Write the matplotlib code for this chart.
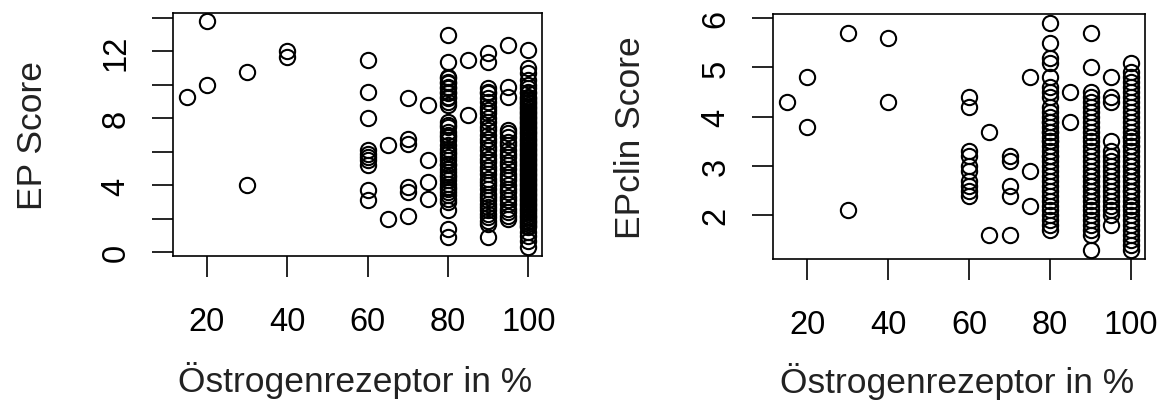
import matplotlib
matplotlib.use("Agg")
from matplotlib import pyplot as plt

plt.rcParams['font.family'] = ['Liberation Sans', 'DejaVu Sans']

# oestrogen receptor levels (%) that occur in the data
er_levels = [15, 20, 30, 40, 60, 65, 70, 75, 80, 85, 90, 95, 100]

# EP score per receptor level
ep_score = [
    [9.3],
    [13.8, 10.0],
    [10.8, 4.0],
    [12.0, 11.7],
    [11.5, 9.6, 8.0, 6.1, 5.9, 5.7, 5.5, 5.2, 3.7, 3.1],
    [6.4, 2.0],
    [9.2, 6.8, 6.5, 3.9, 3.6, 2.2],
    [8.8, 5.5, 4.2, 3.2],
    [13.0, 11.4, 10.5, 10.4, 10.2, 10.1, 9.9, 9.8, 9.6, 9.5, 9.3, 9.2, 9.0, 8.8,
     7.8, 7.6, 7.5, 7.2, 7.0, 6.9, 6.7, 6.4, 6.2, 6.0, 5.9, 5.7, 5.5, 5.3, 5.2,
     5.0, 4.8, 4.6, 4.5, 4.3, 4.1, 3.9, 3.8, 3.6, 3.4, 3.2, 3.0, 2.5, 1.4, 0.9],
    [11.5, 8.2],
    [11.9, 11.4, 9.8, 9.6, 9.5, 9.2, 9.0, 8.7, 8.5, 8.3, 8.0, 7.8, 7.5, 7.3, 7.0,
     6.8, 6.6, 6.3, 6.1, 5.8, 5.6, 5.4, 5.1, 4.9, 4.7, 4.4, 4.2, 4.0, 3.8, 3.5,
     3.3, 3.1, 2.9, 2.7, 2.5, 2.3, 2.1, 1.9, 1.7, 0.9],
    [12.4, 9.9, 9.3, 7.3, 7.1, 6.9, 6.6, 6.4, 6.1, 5.9, 5.7, 5.4, 5.2, 5.0, 4.7,
     4.5, 4.3, 4.0, 3.8, 3.6, 3.3, 3.1, 2.9, 2.6, 2.4, 2.2, 2.0],
    [12.1, 11.0, 10.7, 10.3, 10.0, 9.8, 9.6, 9.5, 9.3, 9.2, 9.1, 9.0, 8.9, 8.8,
     8.7, 8.6, 8.5, 8.4, 8.3, 8.2, 8.1, 8.0, 7.9, 7.8, 7.7, 7.6, 7.5, 7.4, 7.3,
     7.2, 7.1, 7.0, 6.9, 6.8, 6.7, 6.6, 6.5, 6.4, 6.3, 6.2, 6.1, 6.0, 5.9, 5.8,
     5.7, 5.6, 5.5, 5.4, 5.3, 5.2, 5.1, 5.0, 4.9, 4.8, 4.7, 4.6, 4.5, 4.4, 4.3,
     4.2, 4.1, 4.0, 3.9, 3.8, 3.7, 3.6, 3.5, 3.4, 3.3, 3.2, 3.1, 3.0, 2.9, 2.8,
     2.7, 2.6, 2.5, 2.4, 2.3, 2.2, 2.1, 2.0, 1.9, 1.8, 1.7, 1.6, 1.5, 1.2, 1.0,
     0.7, 0.3],
]

# EPclin score per receptor level
epclin_score = [
    [4.3],
    [4.8, 3.8],
    [5.7, 2.1],
    [5.6, 4.3],
    [4.4, 4.2, 3.3, 3.2, 3.0, 2.9, 2.7, 2.6, 2.5, 2.4],
    [3.7, 1.6],
    [3.2, 3.1, 2.6, 2.4, 1.6],
    [4.8, 2.9, 2.2],
    [5.9, 5.5, 5.2, 5.1, 4.8, 4.6, 4.5, 4.4, 4.2, 4.1, 4.0, 3.9, 3.9, 3.8, 3.7,
     3.7, 3.6, 3.5, 3.5, 3.4, 3.3, 3.2, 3.2, 3.1, 3.0, 2.9, 2.8, 2.7, 2.6, 2.5,
     2.4, 2.3, 2.2, 2.1, 2.0, 1.9, 1.8, 1.7],
    [4.5, 3.9],
    [5.7, 5.0, 4.5, 4.4, 4.3, 4.2, 4.1, 4.0, 3.9, 3.8, 3.7, 3.6, 3.5, 3.4, 3.3,
     3.2, 3.1, 3.0, 2.9, 2.8, 2.8, 2.7, 2.6, 2.6, 2.5, 2.4, 2.4, 2.3, 2.2, 2.1,
     2.0, 1.9, 1.8, 1.7, 1.6, 1.3],
    [4.8, 4.4, 4.3, 3.5, 3.3, 3.2, 3.1, 3.0, 2.9, 2.8, 2.7, 2.6, 2.5, 2.4, 2.3,
     2.2, 2.1, 2.0, 1.8],
    [5.1, 4.9, 4.8, 4.7, 4.6, 4.5, 4.4, 4.3, 4.2, 4.1, 4.0, 3.9, 3.8, 3.7, 3.6,
     3.5, 3.4, 3.3, 3.2, 3.1, 3.0, 2.9, 2.8, 2.7, 2.6, 2.5, 2.4, 2.3, 2.2, 2.1,
     2.0, 1.9, 1.8, 1.7, 1.6, 1.5, 1.4, 1.3, 3.6, 3.4, 3.0, 2.8, 2.5, 2.2],
]

x_ticks = [20, 40, 60, 80, 100]
ep_ticks = [0, 2, 4, 6, 8, 10, 12, 14]
ep_tick_labels = ['0', '', '4', '', '8', '', '12', '']
epclin_ticks = [2, 3, 4, 5, 6]
x_label = 'Östrogenrezeptor in %'

W, H = 1166, 402
fig = plt.figure(figsize=(W / 100, H / 100), dpi=100)


def flatten(levels, scores):
    xs, ys = [], []
    for lvl, vals in zip(levels, scores):
        for v in vals:
            xs.append(lvl)
            ys.append(v)
    return xs, ys


def r_style(ax):
    for s in ax.spines.values():
        s.set_linewidth(1.2)
    ax.tick_params(length=15, width=1.2, labelsize=23.5)
    ax.tick_params(axis='x', pad=21)
    ax.tick_params(axis='y', pad=15)
    for lab in ax.get_yticklabels():
        lab.set_rotation(90)
        lab.set_va('center')


# left panel
ax1 = fig.add_axes([173 / W, 1 - 257 / H, 369 / W, 243 / H])
xs, ys = flatten(er_levels, ep_score)
ax1.plot(xs, ys, 'o', ms=11, mfc='none', mec='black', mew=1.5)
ax1.set_xlim(11.6, 103.4)
ax1.set_ylim(-0.22, 14.3)
ax1.set_xticks(x_ticks)
ax1.set_yticks(ep_ticks)
ax1.set_yticklabels(ep_tick_labels)
r_style(ax1)
fig.text(42 / W, 1 - 135.5 / H, 'EP Score', rotation=90, rotation_mode='anchor',
         ha='center', va='baseline', fontsize=25.5, color='#222222')
fig.text(355 / W, 1 - 392 / H, x_label, ha='center', va='baseline',
         fontsize=25.5, color='#222222')

# right panel
ax2 = fig.add_axes([773 / W, 1 - 260 / H, 372 / W, 245 / H])
xs, ys = flatten(er_levels, epclin_score)
ax2.plot(xs, ys, 'o', ms=11, mfc='none', mec='black', mew=1.5)
ax2.set_xlim(11.6, 103.4)
ax2.set_ylim(1.116, 6.084)
ax2.set_xticks(x_ticks)
ax2.set_yticks(epclin_ticks)
r_style(ax2)
fig.text(640 / W, 1 - 137.5 / H, 'EPclin Score', rotation=90, rotation_mode='anchor',
         ha='center', va='baseline', fontsize=25.5, color='#222222')
fig.text(957 / W, 1 - 393 / H, x_label, ha='center', va='baseline',
         fontsize=25.5, color='#222222')

fig.savefig('out.png', dpi=100)
